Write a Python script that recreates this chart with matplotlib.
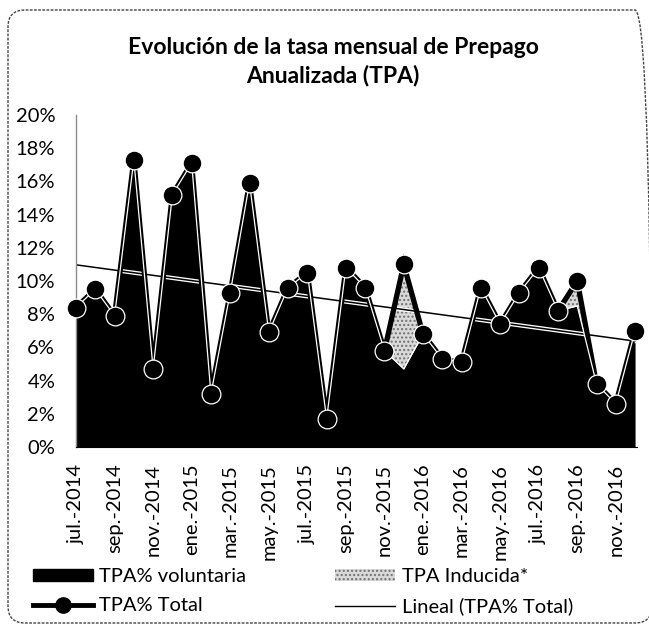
import numpy as np
import matplotlib
matplotlib.use("Agg")
import matplotlib.pyplot as plt
from matplotlib.patches import FancyBboxPatch, Patch
from matplotlib.lines import Line2D
from matplotlib.transforms import IdentityTransform
import matplotlib.patheffects as pe

plt.rcParams['font.family'] = ['Lato', 'DejaVu Sans']

meses = ["jul.-2014", "ago.-2014", "sep.-2014", "oct.-2014", "nov.-2014", "dic.-2014",
         "ene.-2015", "feb.-2015", "mar.-2015", "abr.-2015", "may.-2015", "jun.-2015",
         "jul.-2015", "ago.-2015", "sep.-2015", "oct.-2015", "nov.-2015", "dic.-2015",
         "ene.-2016", "feb.-2016", "mar.-2016", "abr.-2016", "may.-2016", "jun.-2016",
         "jul.-2016", "ago.-2016", "sep.-2016", "oct.-2016", "nov.-2016", "dic.-2016"]
tpa_voluntaria = [8.4, 9.5, 7.9, 17.3, 4.7, 15.2, 17.1, 3.2, 9.3, 15.9, 6.9, 9.6, 10.5, 1.7,
                  10.8, 9.6, 5.8, 4.7, 6.8, 5.3, 5.1, 9.6, 7.4, 9.3, 10.8, 8.2, 8.5, 3.8, 2.6, 7.0]
tpa_inducida = [0, 0, 0, 0, 0, 0, 0, 0, 0, 0, 0, 0, 0, 0,
                0, 0, 0, 6.3, 0, 0, 0, 0, 0, 0, 0, 0, 1.5, 0, 0, 0]
yticks = [0, 2, 4, 6, 8, 10, 12, 14, 16, 18, 20]

vol = np.array(tpa_voluntaria)
ind = np.array(tpa_inducida)
total = vol + ind
x = np.arange(len(meses))
coef = np.polyfit(x, total, 1)
trend = np.polyval(coef, x)

W, H = 649, 626
fig = plt.figure(figsize=(W / 100, H / 100), dpi=100)
ax = fig.add_axes([76 / W, 1 - 447 / H, (637 - 76) / W, (447 - 115) / H])

# outer frame (pixel coordinates, origin bottom-left)
frame = FancyBboxPatch((8, 3), 644, 613, transform=IdentityTransform(),
                       boxstyle="round,pad=0,rounding_size=17", fill=False,
                       edgecolor="#444444", lw=1.0, linestyle=(0, (2, 1)), clip_on=False)
fig.patches.append(frame)

ax.fill_between(x, 0, vol, color="black", lw=0, zorder=1)
ax.fill_between(x, vol, total, facecolor="#d9d9d9", edgecolor="#707070", hatch="....",
                lw=0, zorder=1)
ax.plot(x, trend, color="black", lw=1.1, zorder=2,
        path_effects=[pe.Stroke(linewidth=3, foreground="white"), pe.Normal()])
ax.plot(x, total, color="black", lw=3.8, zorder=3, solid_joinstyle="miter")
ax.plot(x, vol, color="white", lw=0.9, zorder=4)
ax.plot(x, total, linestyle="none", marker="o", ms=13.5, mfc="black", mec="white",
        mew=0.9, zorder=5, clip_on=False)

ax.set_xlim(0, 29.1)
ax.set_ylim(0, 20)
ax.set_yticks(yticks)
ax.set_yticklabels([f"{v}%" for v in yticks], fontsize=14.5)
ax.set_xticks(x[::2])
ax.set_xticklabels(meses[::2], rotation=90, fontsize=14.5)
ax.tick_params(axis="y", length=0, pad=15)
ax.tick_params(axis="x", length=0, pad=12)
for s in ["top", "right"]:
    ax.spines[s].set_visible(False)
ax.spines["left"].set_color("#8c8c8c")
ax.spines["left"].set_linewidth(1)
ax.spines["bottom"].set_color("black")

fig.text(333 / W, 1 - 47 / H, "Evolución de la tasa mensual de Prepago", ha="center",
         va="center", fontsize=16.5, fontweight="bold")
fig.text(333 / W, 1 - 76 / H, "Anualizada (TPA)", ha="center", va="center",
         fontsize=16.5, fontweight="bold")

h_vol = Patch(facecolor="black", edgecolor="black")
h_ind = Patch(facecolor="#d9d9d9", edgecolor="#707070", hatch="....", lw=0)
h_tot = Line2D([], [], color="black", lw=3.5, marker="o", ms=11, mfc="black", mec="black")
h_lin = Line2D([], [], color="black", lw=1)
leg = fig.legend([h_vol, h_tot, h_ind, h_lin],
                 ["TPA% voluntaria", "TPA% Total", "TPA Inducida*", "Lineal (TPA% Total)"],
                 ncol=2, loc="upper left", bbox_to_anchor=(33 / W, 1 - 568 / H),
                 frameon=False, fontsize=14.5, handlelength=3.0, handletextpad=0.3,
                 columnspacing=4.4, labelspacing=0.62, borderpad=0, borderaxespad=0,
                 handleheight=0.55)

fig.savefig("out.png", dpi=100)
